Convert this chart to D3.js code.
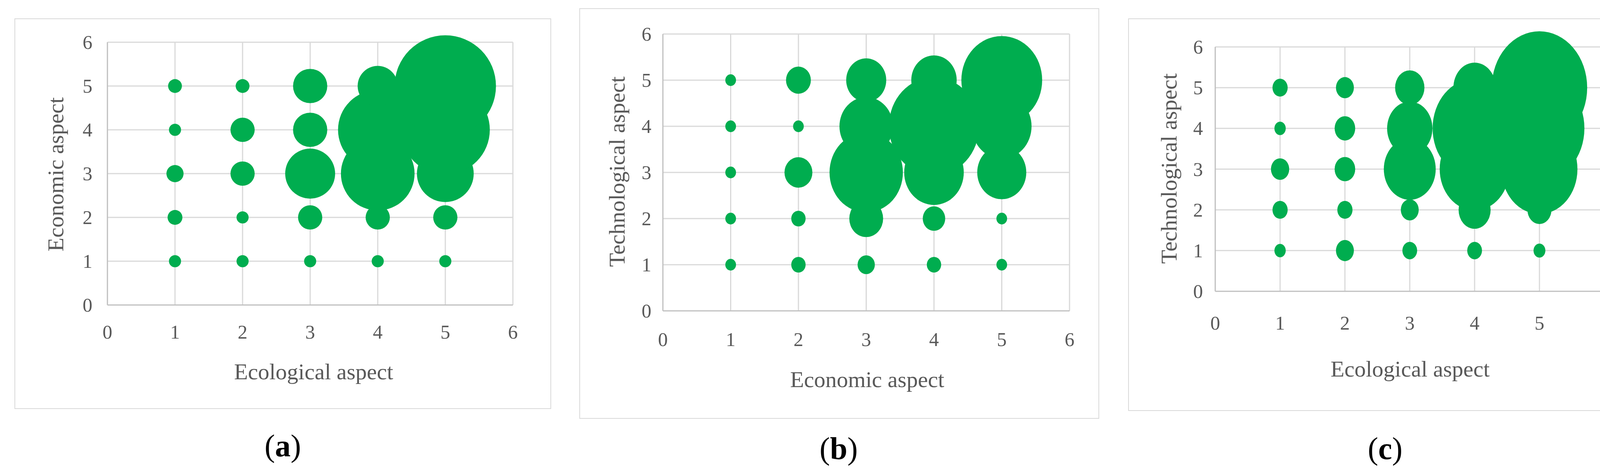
<!DOCTYPE html>
<html>
<head>
<meta charset="utf-8">
<script src="https://cdn.jsdelivr.net/npm/d3@7"></script>
<style>
body { margin: 0; background: #fff; overflow: hidden; }
text { font-family: "Liberation Serif", "Times New Roman", serif; }
</style>
</head>
<body>
<svg id="chart" width="4220" height="1202"></svg>
<script>
// tick values shared by both axes
var ticks = [0, 1, 2, 3, 4, 5, 6]
var levels = [1, 2, 3, 4, 5]

// bubble sizes, rows = y level 1..5, columns = x level 1..5
var sizesA = [
	[1, 1, 1, 1, 1],
	[1.5, 1, 4, 4, 4],
	[2, 4, 17, 37, 22],
	[1, 4, 8, 43, 54],
	[1.3, 1.3, 8, 11, 70]
]
var sizesB = [
	[1, 1.8, 2.6, 1.8, 1],
	[1, 1.8, 10, 4.4, 1],
	[1, 6.8, 47, 31, 21],
	[1, 1, 25, 71, 31],
	[1, 5.4, 14, 18, 57]
]
var sizesC = [
	[1, 2.5, 1.7, 1.7, 1.1],
	[1.8, 1.8, 2.5, 8, 4.5],
	[2.6, 3.3, 21, 38, 45],
	[1, 3.3, 16, 55, 63],
	[1.8, 2.5, 6.7, 14, 71]
]
var xTitles = ["Ecological aspect", "Economic aspect", "Ecological aspect"]
var yTitles = ["Economic aspect", "Technological aspect", "Technological aspect"]
var captions = ["a", "b", "c"]

var panels = [
	{ frame: [38, 48, 1410, 1045], x: [275, 1313], y: [780, 108], r1: 15.5, stretch: 1.0, tickX: 224, tickY: 866, xt: [803, 970], yt: [142, 446], cap: [724, 1167] },
	{ frame: [1484, 22, 2813, 1070], x: [1697, 2738], y: [795, 87], r1: 13.7, stretch: 1.09, tickX: 1655, tickY: 885, xt: [2220, 990], yt: [1579, 439], cap: [2147, 1174] },
	{ frame: [2889, 48, 4184, 1050], x: [3111, 4107], y: [745, 120], r1: 14.5, stretch: 1.18, tickX: 3067, tickY: 843, xt: [3610, 963], yt: [2992, 431], cap: [3546, 1174] }
]
var allSizes = [sizesA, sizesB, sizesC]

var svg = d3.select("#chart")

panels.forEach(function(p, i)
{
	var g = svg.append("g")
	var x = d3.scaleLinear().domain([0, 6]).range(p.x)
	var y = d3.scaleLinear().domain([0, 6]).range(p.y)
	var r = d3.scaleSqrt().domain([0, 1]).range([0, p.r1])

	g.append("rect")
		.attr("x", p.frame[0]).attr("y", p.frame[1])
		.attr("width", p.frame[2] - p.frame[0]).attr("height", p.frame[3] - p.frame[1])
		.attr("fill", "#fff").attr("stroke", "#d9d9d9").attr("stroke-width", 2)

	// grid
	g.selectAll(".vg").data(ticks.slice(1)).enter().append("line")
		.attr("x1", d => x(d)).attr("x2", d => x(d))
		.attr("y1", y(0)).attr("y2", y(6))
		.attr("stroke", "#d9d9d9").attr("stroke-width", 3)
	g.selectAll(".hg").data(ticks.slice(1)).enter().append("line")
		.attr("x1", x(0)).attr("x2", x(6))
		.attr("y1", d => y(d)).attr("y2", d => y(d))
		.attr("stroke", "#d9d9d9").attr("stroke-width", 3)
	g.append("line").attr("x1", x(0)).attr("x2", x(0)).attr("y1", y(0)).attr("y2", y(6))
		.attr("stroke", "#bfbfbf").attr("stroke-width", 3)
	g.append("line").attr("x1", x(0)).attr("x2", x(6)).attr("y1", y(0)).attr("y2", y(0))
		.attr("stroke", "#bfbfbf").attr("stroke-width", 3)

	// bubbles (picture is stretched, so they are drawn as ellipses)
	var pts = []
	allSizes[i].forEach(function(row, yi) {
		row.forEach(function(v, xi) { pts.push({ x: levels[xi], y: levels[yi], v: v }) })
	})
	g.selectAll(".bubble").data(pts).enter().append("ellipse")
		.attr("cx", d => x(d.x)).attr("cy", d => y(d.y))
		.attr("rx", d => r(d.v)).attr("ry", d => r(d.v) * p.stretch)
		.attr("fill", "#00ad4f")

	// tick labels
	g.selectAll(".xl").data(ticks).enter().append("text")
		.attr("x", d => x(d)).attr("y", p.tickY)
		.attr("text-anchor", "middle").attr("font-size", 50).attr("fill", "#595959")
		.text(d => d)
	g.selectAll(".yl").data(ticks).enter().append("text")
		.attr("x", p.tickX).attr("y", d => y(d) + 17)
		.attr("text-anchor", "middle").attr("font-size", 50).attr("fill", "#595959")
		.text(d => d)

	// titles
	g.append("text").attr("x", p.xt[0]).attr("y", p.xt[1])
		.attr("text-anchor", "middle").attr("font-size", 58).attr("fill", "#595959")
		.text(xTitles[i])
	g.append("text").attr("transform", "translate(" + (p.yt[0] + 20) + "," + p.yt[1] + ") rotate(-90)")
		.attr("text-anchor", "middle").attr("font-size", 58).attr("fill", "#595959")
		.text(yTitles[i])

	var cap = g.append("text").attr("x", p.cap[0]).attr("y", p.cap[1])
		.attr("text-anchor", "middle").attr("font-size", 80).attr("fill", "#000")
	cap.append("tspan").text("(")
	cap.append("tspan").attr("font-weight", "bold").text(captions[i])
	cap.append("tspan").text(")")
})
</script>
</body>
</html>
